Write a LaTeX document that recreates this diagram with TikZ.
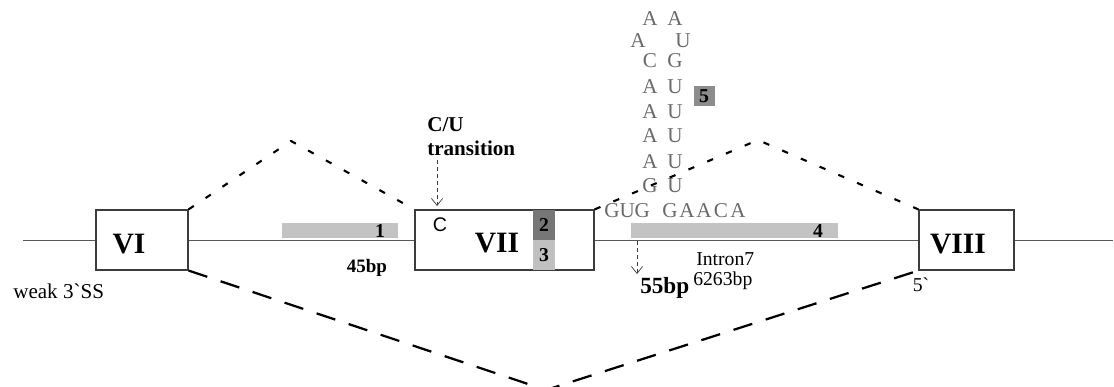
\documentclass[tikz,border=0pt]{standalone}
\usepackage{fontspec}
\setmainfont{Liberation Serif}
\setsansfont{Liberation Sans}
\usetikzlibrary{arrows.meta, positioning}
\definecolor{barfill}{RGB}{195, 195, 195}
\definecolor{blockdark}{RGB}{118, 118, 118}
\definecolor{blocklight}{RGB}{192, 192, 192}
\definecolor{boxfive}{RGB}{140, 140, 140}
\definecolor{rnatext}{RGB}{105, 105, 105}
\definecolor{lineclr}{RGB}{60, 60, 60}
\newcommand{\fsz}[1]{\fontsize{#1}{#1}\selectfont}

\begin{document}
\begin{tikzpicture}[x=0.025cm, y=-0.025cm,
        exon/.style={draw=lineclr, line width=0.8pt, minimum height=1.5cm, inner sep=0pt},
        exonlbl/.style={font=\bfseries\fsz{21}, anchor=base, inner sep=0pt},
        num/.style={font=\bfseries\fsz{14}, inner sep=0pt},
        rna/.style={font=\fsz{15}, text=rnatext, anchor=base, inner sep=0pt},
        lbl/.style={font=\fsz{14}, anchor=base west, inner sep=0pt},
        backbone/.style={draw=lineclr!85, line width=0.7pt},
        splice/.style={line width=1.5pt, dash pattern=on 4.5pt off 10pt},
        skip/.style={line width=1.6pt, dash pattern=on 14pt off 10pt},
        ptr/.style={draw=lineclr, line width=0.5pt, dash pattern=on 3pt off 2pt,
            -{Straight Barb[length=5pt, width=8pt]}}]
        \useasboundingbox (0,0) rectangle (1114,387);

        % 外显子
        \node[exon, minimum width=2.3cm] (vi) at (142,240) {};
        \node[exon, minimum width=4.475cm] (vii) at (504.5,240) {};
        \node[exon, minimum width=2.375cm] (viii) at (966.5,240) {};
        \node[exonlbl] (vilbl) at (129,253) {VI};
        \node[exonlbl] (viilbl) at (497,252) {VII};
        \node[exonlbl] (viiilbl) at (958,253) {VIII};
        \node[font=\sffamily\fsz{14}, anchor=base, inner sep=0pt] (cnuc) at (440,232) {C};

        % 主线
        \coordinate (lend) at (23,240);
        \coordinate (rend) at (1113,240);
        \draw[backbone] (lend) -- (vi) -- (vii) -- (viii) -- (rend);

        % 区块
        \fill[barfill] (282,223) rectangle (398,238);
        \node[num] (n1) at (380,231) {1};
        \fill[barfill] (631,223) rectangle (838,238);
        \node[num] (n4) at (818,231) {4};
        \node[num, fill=blockdark, minimum width=0.55cm, minimum height=0.75cm] (n2) at (544,225) {2};
        \node[num, fill=blocklight, minimum width=0.55cm, minimum height=0.75cm] (n3) at (544,255) {3};
        \node[num, fill=boxfive, minimum width=0.525cm, minimum height=0.5cm] (n5) at (704,96) {5};

        % 茎环
        \foreach \a/\b/\y in {A/A/26, C/G/68, A/U/94, A/U/118, A/U/143, A/U/169, G/U/193} {
            \node[rna] (l\y) at (650,\y) {\a};
            \node[rna] (r\y) at (675,\y) {\b};
        }
        \node[rna] (loopl) at (638,48) {A};
        \node[rna] (loopr) at (683,48) {U};
        \node[rna, anchor=base west] (gug) at (604,218) {GUG};
        \foreach \ch [count=\i] in {G,A,A,C,A}
            \node[rna] (g\i) at (653+17*\i,218) {\ch};

        % 剪接
        \coordinate (pk1) at (291,141);
        \coordinate (pk2) at (758,140);
        \coordinate (vt) at (546,390);
        \draw[splice] (vi.north east) -- (pk1) -- (vii.north west);
        \draw[splice] (vii.north east) -- (pk2) -- (viii.north west);
        \draw[skip] (vi.south east) -- (vt) -- (viii.south west);

        % 标注
        \node[font=\bfseries\fontsize{15}{17}\selectfont, align=left, anchor=north west,
            inner sep=0pt] (cu) at (427,117) {C/U\\transition};
        \coordinate (cutip) at (437,206);
        \draw[ptr] ([yshift=-3pt]cutip |- cu.south) -- (cutip);
        \coordinate (sp55) at (637,241);
        \coordinate (tip55) at (637,274);
        \draw[ptr] (sp55) -- (tip55);
        \node[font=\bfseries\fsz{13.5}, anchor=base, inner sep=0pt] (bp45) at (367,272) {45bp};
        \node[font=\bfseries\fsz{16.5}, anchor=base west, inner sep=0pt] (bp55) at (640,293) {55bp};
        \node[lbl] (intron) at (696,265) {Intron7};
        \node[lbl] (ilen) at (693,285) {6263bp};
        \node[lbl, font=\fsz{15}] (weak) at (13,298) {weak 3\textasciigrave SS};
        \node[lbl, anchor=base] (five) at (921,291) {5\textasciigrave};

    \end{tikzpicture}
\end{document}
